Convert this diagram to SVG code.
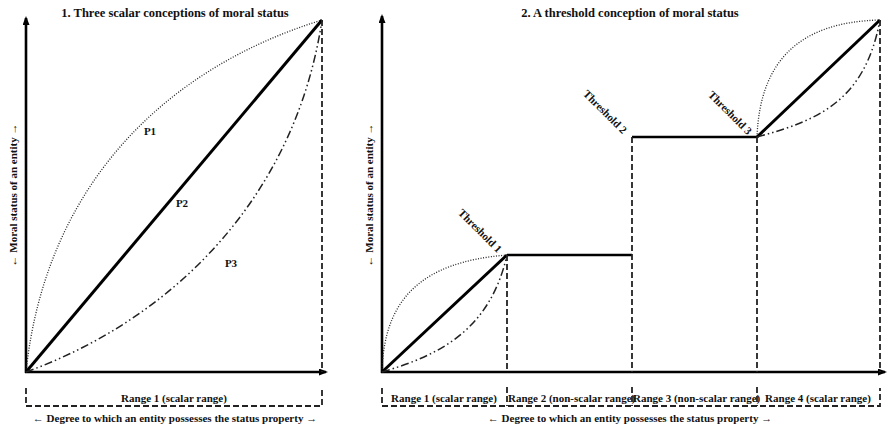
<svg xmlns="http://www.w3.org/2000/svg" width="888" height="430" viewBox="0 0 888 430">
<defs>
<marker id="arr" markerUnits="userSpaceOnUse" markerWidth="9" markerHeight="7" refX="7" refY="3.5" orient="auto">
<path d="M0,0 L9,3.5 L0,7 z" fill="#000"/>
</marker>
</defs>
<style>
text{font-family:"Liberation Serif","Times New Roman",serif;font-weight:bold;fill:#111}
.title{font-size:12.5px;text-anchor:middle}
.lbl{font-size:11px}
.mid{text-anchor:middle}
.axis{stroke:#000;stroke-width:2.6;fill:none}
.thick{stroke:#000;stroke-width:3;fill:none}
.step{stroke:#000;stroke-width:2.4;fill:none}
.dash{stroke:#222;stroke-width:1.8;stroke-dasharray:6,3;fill:none}
.dot{stroke:#222;stroke-width:1.3;stroke-dasharray:1,1.6;fill:none}
.dd{stroke:#222;stroke-width:1.5;stroke-dasharray:8,3,1.5,3,1.5,3;fill:none}
</style>
<rect width="888" height="430" fill="#fff"/>

<g id="panel1" font-family="Liberation Serif, serif">
<text class="title" x="175" y="17">1. Three scalar conceptions of moral status</text>
<g id="axes1">
<line class="axis" x1="26" y1="373" x2="26" y2="18" marker-end="url(#arr)"/>
<line class="axis" x1="25" y1="372" x2="326" y2="372" marker-end="url(#arr)"/>
<text class="lbl mid" transform="translate(17,195) rotate(-90)">← Moral status of an entity →</text>
</g>
<g id="curves1">
<path class="dot" d="M26,372 C45,190 160,70 322,20"/>
<line class="thick" x1="26" y1="372" x2="322" y2="20"/>
<path class="dd" d="M26,372 C170,320 295,200 322,20"/>
<line class="dash" x1="322" y1="20" x2="322" y2="372"/>
</g>
<g id="P1"><text class="lbl mid" x="150" y="135">P1</text></g>
<g id="P2"><text class="lbl mid" x="182" y="207">P2</text></g>
<g id="P3"><text class="lbl mid" x="231" y="267">P3</text></g>
<g id="range1a">
<path class="dash" d="M26,388 V406 H322 V388"/>
<text class="lbl mid" x="174" y="402">Range 1 (scalar range)</text>
</g>
<text class="lbl mid" x="175" y="422">← Degree to which an entity possesses the status property →</text>
</g>

<g id="panel2" font-family="Liberation Serif, serif">
<text class="title" x="630" y="17">2. A threshold conception of moral status</text>
<g id="axes2">
<line class="axis" x1="382" y1="373" x2="382" y2="16" marker-end="url(#arr)"/>
<line class="axis" x1="381" y1="372" x2="885" y2="372" marker-end="url(#arr)"/>
<text class="lbl mid" transform="translate(373,195) rotate(-90)">← Moral status of an entity →</text>
</g>
<g id="connectors">
<path class="dot" d="M382,372 C384,300 420,262 507,255"/>
<line class="thick" x1="382" y1="372" x2="507" y2="255"/>
<path class="dd" d="M382,372 C440,355 490,330 507,255"/>
<line class="step" x1="507" y1="255" x2="632" y2="255"/>
<line class="step" x1="632" y1="137" x2="757" y2="137"/>
<path class="dot" d="M757,137 C760,60 800,22 880,20"/>
<line class="thick" x1="757" y1="137" x2="880" y2="20"/>
<path class="dd" d="M757,137 C820,120 865,100 880,20"/>
<line class="dash" x1="507" y1="255" x2="507" y2="372"/>
<line class="dash" x1="632" y1="137" x2="632" y2="372"/>
<line class="dash" x1="757" y1="137" x2="757" y2="372"/>
<line class="dash" x1="880" y1="20" x2="880" y2="372"/>
</g>
<g id="threshold1"><text class="lbl mid" transform="translate(480,231) rotate(45)" y="3.5">Threshold 1</text></g>
<g id="threshold2"><text class="lbl mid" transform="translate(605,112) rotate(45)" y="3.5">Threshold 2</text></g>
<g id="threshold3"><text class="lbl mid" transform="translate(730,113) rotate(45)" y="3.5">Threshold 3</text></g>
<g id="ranges2">
<path class="dash" d="M382,388 V406 H880 V388"/>
<text class="lbl mid" x="444" y="402">Range 1 (scalar range)</text>
<text class="lbl" x="508" y="402">Range 2 (non-scalar range)</text>
<text class="lbl" x="633" y="402">Range 3 (non-scalar range)</text>
<text class="lbl mid" x="818" y="402">Range 4 (scalar range)</text>
<line class="dash" x1="507" y1="387" x2="507" y2="406"/>
<line class="dash" x1="632" y1="387" x2="632" y2="406"/>
<line class="dash" x1="757" y1="387" x2="757" y2="406"/>
</g>
<text class="lbl mid" x="630" y="422">← Degree to which an entity possesses the status property →</text>
</g>
</svg>
